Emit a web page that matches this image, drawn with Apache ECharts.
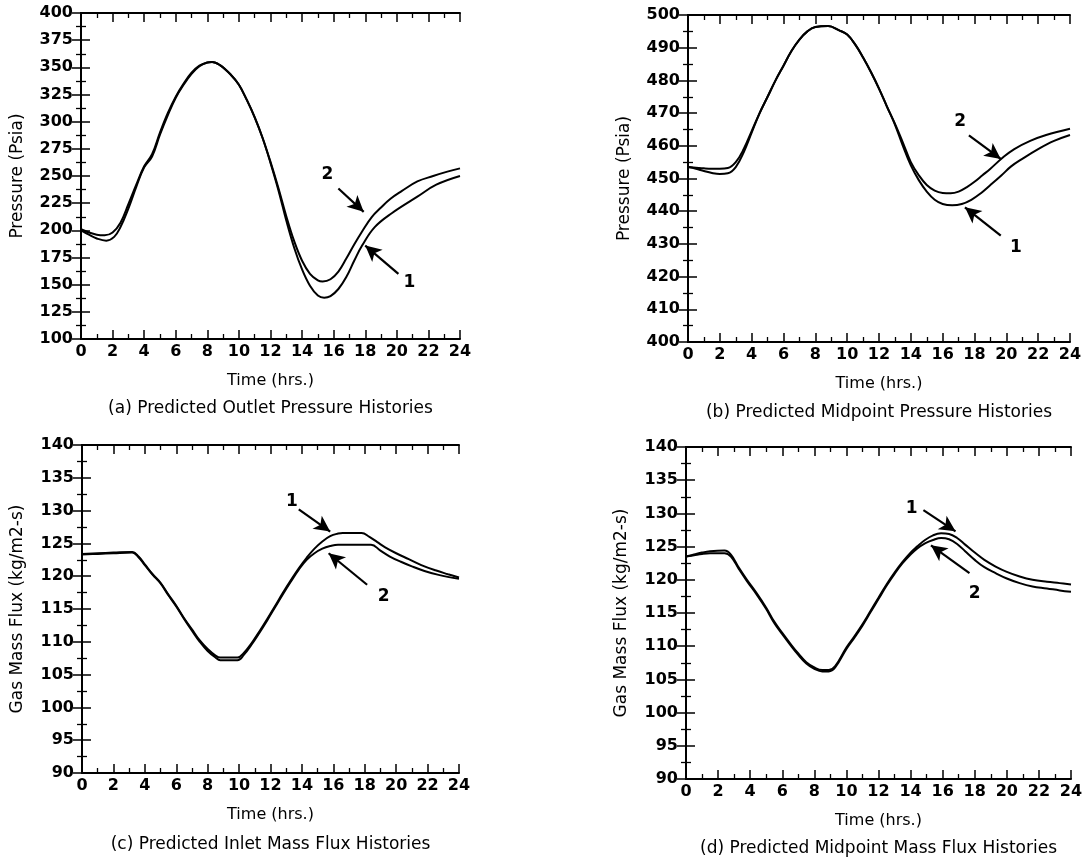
<!DOCTYPE html>
<html>
<head>
<meta charset="utf-8">
<script src="https://cdn.jsdelivr.net/npm/echarts@6/dist/echarts.min.js"></script>
<style>
  html, body { margin: 0; padding: 0; background: #fff; }
  #chart { width: 1092px; height: 861px; }
</style>
</head>
<body>
<div id="chart"></div>
<script>
// ---- (a) outlet pressure, psia ----
const aHours1 = [0,0.5,1,1.6,2.1,2.5,3,3.5,4,4.5,5,5.5,6,6.5,7,7.5,8,8.3,8.8,9.5,10,10.5,11,11.5,12,12.5,13,13.5,14,14.5,15,15.4,15.8,16.3,16.8,17.3,17.8,18.6,19.7,21.3,22.5,24];
const aPress1 = [200,196,192.5,190.5,194,203,220,240,258,268,288,306,322,334,344,351,354.5,355,352,343,334,320,304,285,262,237,209,184,164,149,140,138,139.5,146,157,172,186,203,216,231,242,250];
const aHours2 = [0,0.5,1,1.5,2,2.5,3,3.5,4,4.5,5,5.5,6,6.5,7,7.5,8,8.3,8.8,9.5,10,10.5,11,11.5,12,12.5,13,13.5,14,14.5,15,15.3,15.8,16.3,16.8,17.3,17.8,18.4,19,19.6,20.3,21.3,22.3,23.2,24];
const aPress2 = [201,198,196,195.5,198,207,224,242,259,270,290,308,323,335,345,351.5,354.5,355,352,343,334,320,304,285,263,239,213,190,172,160,154,153,155,162,174,187,199,212,221,229,236,245,250,254,257];

// ---- (b) midpoint pressure, psia ----
const bHours1 = [0,0.5,1,1.5,2,2.5,3,3.5,4,4.5,5,5.5,6,6.5,7,7.5,8,8.8,9.5,10,10.5,11,11.5,12,12.5,13,13.5,14,14.5,15,15.5,16,16.6,17.2,17.8,18.4,19,19.7,20.3,21,22,23,24];
const bPress1 = [453.5,453,452.3,451.7,451.4,451.6,453.5,458,464,470,475,480,484.5,489,492.5,495,496.3,496.6,495.3,494,491,487,482.5,477.5,472,466.5,460,454,449.5,446,443.5,442.2,441.8,442.2,443.5,445.5,448,451,453.7,456,459,461.5,463.3];
const bHours2 = [0,0.5,1,1.5,2,2.5,3,3.5,4,4.5,5,5.5,6,6.5,7,7.5,8,8.8,9.5,10,10.5,11,11.5,12,12.5,13,13.5,14,14.5,15,15.5,16,16.5,17,17.5,18,18.5,19,19.8,20.5,21.5,22.5,24];
const bPress2 = [453.5,453.3,453.1,453,453,453.2,455,459,464.5,470,475,480,484.5,489,492.5,495,496.3,496.6,495.3,494,491,487,482.5,477.5,472,466.8,461,455,451,448,446.3,445.6,445.5,446,447.3,449,451,453,456.5,459,461.5,463.3,465.2];

// ---- (c) inlet mass flux, kg/m2-s ----
const cHours1 = [0,1,2,3.2,3.6,4,4.5,5,5.5,6,6.5,7,7.5,8,8.5,8.8,9.9,10.3,10.8,11.3,11.8,12.3,12.8,13.3,13.8,14.3,14.8,15.3,15.8,16.3,16.6,17.8,18.3,18.8,19.3,20,20.8,21.6,22.5,23.3,24];
const cFlux1 = [123.4,123.5,123.6,123.7,123,121.8,120.3,119,117.2,115.5,113.6,111.9,110.2,108.9,107.9,107.6,107.6,108.3,109.8,111.6,113.5,115.5,117.5,119.4,121.2,122.8,124.2,125.3,126.1,126.5,126.6,126.6,126,125.2,124.4,123.5,122.6,121.7,120.9,120.3,119.8];
const cHours2 = [0,1,2,3.2,3.6,4,4.5,5,5.5,6,6.5,7,7.5,8,8.5,8.8,9.9,10.3,10.8,11.3,11.8,12.3,12.8,13.3,13.8,14.3,14.8,15.3,15.8,16.3,18.4,19,19.6,20.3,21,21.8,22.7,24];
const cFlux2 = [123.3,123.4,123.5,123.6,122.9,121.7,120.2,118.9,117.1,115.4,113.5,111.7,110,108.6,107.6,107.2,107.2,108,109.6,111.4,113.3,115.3,117.3,119.2,121,122.5,123.5,124.2,124.6,124.8,124.8,123.9,123,122.2,121.5,120.8,120.2,119.6];

// ---- (d) midpoint mass flux, kg/m2-s ----
const dHours1 = [0,0.5,1,1.5,2.4,2.8,3.3,3.8,4.4,5,5.5,6,6.5,7,7.5,8,8.5,8.9,9.3,10,10.5,11,11.5,12,12.5,13,13.5,14,14.4,14.9,15.4,15.9,16.4,16.9,17.4,18,18.6,19.3,20,20.8,21.6,22.5,23.3,24];
const dFlux1 = [123.5,123.8,124.1,124.3,124.4,123.8,121.8,120,118,115.8,113.7,112,110.4,108.9,107.6,106.8,106.4,106.4,107,109.8,111.5,113.3,115.3,117.3,119.3,121.1,122.7,124.1,125,126,126.7,127,126.9,126.3,125.3,124.1,123,122,121.2,120.5,120,119.7,119.5,119.3];
const dHours2 = [0,0.5,1,1.5,2.4,2.8,3.3,3.8,4.4,5,5.5,6,6.5,7,7.5,8,8.5,8.9,9.3,10,10.5,11,11.5,12,12.5,13,13.5,14,14.4,14.9,15.4,15.9,16.4,16.9,17.4,18,18.6,19.3,20,20.8,21.6,22.5,23.3,24];
const dFlux2 = [123.5,123.7,123.9,124,124,123.5,121.6,119.8,117.8,115.6,113.5,111.8,110.2,108.7,107.4,106.6,106.2,106.2,106.8,109.6,111.3,113.1,115.1,117.1,119.1,120.9,122.5,123.8,124.7,125.5,126,126.3,126.1,125.4,124.3,123,121.9,121,120.2,119.5,119,118.7,118.4,118.2];

// ---- axis ranges and text ----
const xTicks = { min: 0, max: 24, interval: 2 };
const aRange = { min: 100, max: 400, interval: 25 };
const bRange = { min: 400, max: 500, interval: 10 };
const fluxRange = { min: 90, max: 140, interval: 5 };
const xName = 'Time (hrs.)';
const pressName = 'Pressure (Psia)';
const fluxName = 'Gas Mass Flux (kg/m2-s)';
const captions = [
  '(a) Predicted Outlet Pressure Histories',
  '(b) Predicted Midpoint Pressure Histories',
  '(c) Predicted Inlet Mass Flux Histories',
  '(d) Predicted Midpoint Mass Flux Histories'
];
const curveLabels = ['1', '2'];

// arrow annotations per panel, in data units: label spot, arrow tail, arrow head
const arrowsA = [
  { label: [20.8, 152], tail: [20.1, 160], head: [18.0, 186] },
  { label: [15.6, 251], tail: [16.3, 238.5], head: [17.9, 217] }
];
const arrowsB = [
  { label: [20.6, 429], tail: [19.65, 432.5], head: [17.4, 441.2] },
  { label: [17.1, 467.3], tail: [17.65, 463.2], head: [19.65, 456] }
];
const arrowsC = [
  { label: [13.36, 131.4], tail: [13.8, 130.2], head: [15.8, 126.8] },
  { label: [19.2, 116.9], tail: [18.15, 118.7], head: [15.7, 123.5] }
];
const arrowsD = [
  { label: [14.07, 130.8], tail: [14.8, 130.5], head: [16.8, 127.3] },
  { label: [18.0, 118.0], tail: [17.67, 121], head: [15.27, 125.2] }
];

const zip = (xs, ys) => xs.map((x, i) => [x, ys[i]]);

const FONT = 'DejaVu Sans';
const grids = [
  { left: 81, top: 13, width: 379, height: 326 },
  { left: 688, top: 15, width: 382, height: 327 },
  { left: 82, top: 445, width: 377, height: 328 },
  { left: 686, top: 447, width: 385, height: 332 }
];

const lineStyleAxis = { color: '#000', width: 2 };
function tickCfg(len) {
  return { show: true, inside: true, length: len, lineStyle: { color: '#000', width: 1.5 } };
}
function minorCfg() {
  return { show: true, splitNumber: 2, length: 5, lineStyle: { color: '#000', width: 1.3 } };
}

const xAxes = [], yAxes = [];
function addAxes(g, yr, yName, yGap) {
  xAxes.push({
    type: 'value', gridIndex: g, position: 'bottom', min: xTicks.min, max: xTicks.max, interval: xTicks.interval,
    axisLine: { show: true, lineStyle: lineStyleAxis }, axisTick: tickCfg(9), minorTick: minorCfg(),
    splitLine: { show: false }, minorSplitLine: { show: false },
    axisLabel: { color: '#000', fontFamily: FONT, fontSize: 16, fontWeight: 'bold', margin: 5 },
    name: xName, nameLocation: 'middle', nameGap: 34,
    nameTextStyle: { color: '#000', fontFamily: FONT, fontSize: 16 }
  });
  xAxes.push({
    type: 'value', gridIndex: g, position: 'top', min: xTicks.min, max: xTicks.max, interval: xTicks.interval,
    axisLine: { show: true, lineStyle: lineStyleAxis }, axisTick: tickCfg(9), minorTick: minorCfg(),
    splitLine: { show: false }, minorSplitLine: { show: false }, axisLabel: { show: false }
  });
  yAxes.push({
    type: 'value', gridIndex: g, position: 'left', min: yr.min, max: yr.max, interval: yr.interval,
    axisLine: { show: true, lineStyle: lineStyleAxis }, axisTick: tickCfg(9), minorTick: minorCfg(),
    splitLine: { show: false }, minorSplitLine: { show: false },
    axisLabel: { color: '#000', fontFamily: FONT, fontSize: 16, fontWeight: 'bold', margin: 8 },
    name: yName, nameLocation: 'middle', nameGap: yGap,
    nameTextStyle: { color: '#000', fontFamily: FONT, fontSize: 17 }
  });
  yAxes.push({
    type: 'value', gridIndex: g, position: 'right', min: yr.min, max: yr.max, interval: yr.interval,
    axisLine: { show: true, lineStyle: lineStyleAxis }, axisTick: tickCfg(9), minorTick: minorCfg(),
    splitLine: { show: false }, minorSplitLine: { show: false }, axisLabel: { show: false }
  });
}
addAxes(0, aRange, pressName, 55);
addAxes(1, bRange, pressName, 55);
addAxes(2, fluxRange, fluxName, 56);
addAxes(3, fluxRange, fluxName, 56);

function curve(g, pts, arrow, labelText) {
  return {
    type: 'line', xAxisIndex: g * 2, yAxisIndex: g * 2, data: pts,
    symbol: 'none', smooth: 0.4,
    lineStyle: { color: '#000', width: 2 }, silent: true,
    markLine: {
      silent: true, symbol: ['none', 'arrow'], symbolSize: [12, 16],
      lineStyle: { color: '#000', width: 2.2, type: 'solid' }, label: { show: false },
      data: [[{ coord: arrow.tail }, { coord: arrow.head }]]
    },
    markPoint: {
      silent: true, symbol: 'rect', symbolSize: 1, itemStyle: { color: 'rgba(0,0,0,0)' },
      label: { show: true, position: 'inside', formatter: labelText, color: '#000', fontFamily: FONT, fontSize: 17, fontWeight: 'bold' },
      data: [{ coord: arrow.label }]
    }
  };
}

const series = [
  curve(0, zip(aHours1, aPress1), arrowsA[0], curveLabels[0]),
  curve(0, zip(aHours2, aPress2), arrowsA[1], curveLabels[1]),
  curve(1, zip(bHours1, bPress1), arrowsB[0], curveLabels[0]),
  curve(1, zip(bHours2, bPress2), arrowsB[1], curveLabels[1]),
  curve(2, zip(cHours1, cFlux1), arrowsC[0], curveLabels[0]),
  curve(2, zip(cHours2, cFlux2), arrowsC[1], curveLabels[1]),
  curve(3, zip(dHours1, dFlux1), arrowsD[0], curveLabels[0]),
  curve(3, zip(dHours2, dFlux2), arrowsD[1], curveLabels[1])
];

const captionY = [409, 413, 845, 849];
const graphic = captions.map((t, i) => ({
  type: 'text', silent: true,
  x: grids[i].left + grids[i].width / 2, y: captionY[i],
  style: { text: t, fill: '#000', font: '17px "' + FONT + '"', textAlign: 'center', textVerticalAlign: 'middle' }
}));

const chart = echarts.init(document.getElementById('chart'), null, { renderer: 'canvas' });
chart.setOption({
  animation: false,
  backgroundColor: '#fff',
  grid: grids,
  xAxis: xAxes,
  yAxis: yAxes,
  series: series,
  graphic: graphic
});
</script>
</body>
</html>
